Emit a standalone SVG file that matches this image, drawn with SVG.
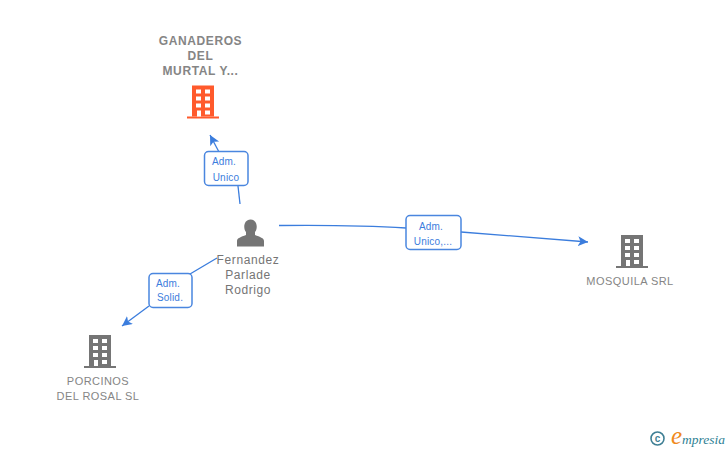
<svg xmlns="http://www.w3.org/2000/svg" width="728" height="450" viewBox="0 0 728 450">
<style>
text{font-family:"Liberation Sans",Arial,sans-serif;text-anchor:middle}
.n{font-size:11px;fill:#858585;letter-spacing:.45px}
.b{font-size:12px;font-weight:700;letter-spacing:.6px}
.p{font-size:12px;fill:#757575;letter-spacing:.6px}
.l{font-size:10px;fill:#3b7ddd;letter-spacing:.2px}
.c{fill:none;stroke:#3b7ddd;stroke-width:1.300}
.box{fill:#fff;stroke:#4a86df;stroke-width:1.500}
.win{fill:#fff}
</style>
<defs>
<marker id="a" markerUnits="userSpaceOnUse" markerWidth="12" markerHeight="12" refX="10" refY="5" orient="auto"><path d="M0 0L10 5L0 10L2.500 5Z" fill="#3b7ddd"/></marker>
<g id="bld">
<rect x="2" y="0" width="22" height="31"/>
<rect x="-3" y="31" width="32" height="2"/>
<g class="win">
<rect x="6" y="4" width="5" height="4"/><rect x="15" y="4" width="5" height="4"/>
<rect x="6" y="11" width="5" height="4"/><rect x="15" y="11" width="5" height="4"/>
<rect x="6" y="18" width="5" height="4"/><rect x="15" y="18" width="5" height="4"/>
<rect x="7" y="25" width="4" height="6"/><rect x="15" y="25" width="5" height="4"/>
</g>
</g>
</defs>
<g id="connectors">
<path class="c" d="M240 204L238 186"/>
<path class="c" marker-end="url(#a)" d="M219 152L210 135"/>
<path class="c" d="M217 258L190 274"/>
<path class="c" marker-end="url(#a)" d="M149 306L122 326"/>
<path class="c" d="M279 225.500C330 225 375 226 406 228"/>
<path class="c" marker-end="url(#a)" d="M461 232L588 242"/>
</g>
<g id="edge-label-1"><rect class="box" x="204.500" y="151.500" width="43.500" height="34" rx="4"/><text class="l" x="224" y="165">Adm.</text><text class="l" x="226" y="180.500">Unico</text></g>
<g id="edge-label-2"><rect class="box" x="149" y="273.500" width="43" height="34" rx="4"/><text class="l" x="168" y="286.500">Adm.</text><text class="l" x="170" y="301">Solid.</text></g>
<g id="edge-label-3"><rect class="box" x="406" y="215.500" width="55" height="34" rx="4"/><text class="l" x="431" y="229.500">Adm.</text><text class="l" x="433" y="244.500">Unico,...</text></g>
<g id="node-ganaderos">
<text class="n b" x="200.500" y="45">GANADEROS</text><text class="n b" x="200.500" y="60">DEL</text><text class="n b" x="200.500" y="75">MURTAL Y...</text>
<use href="#bld" x="190" y="85.500" fill="#ff5a2c"/>
</g>
<g id="node-person">
<path d="M237 246.500V241C237 238 241 237 246 235V232C243 229 243.500 219.500 250.500 219.500C257.500 219.500 258 229 255 232V235C260 237 264 238 264 241V246.500Z" fill="#757575"/>
<text class="p" x="248" y="264">Fernandez</text><text class="p" x="248" y="279">Parlade</text><text class="p" x="248" y="294">Rodrigo</text>
</g>
<g id="node-mosquila">
<use href="#bld" x="619" y="235" fill="#757575"/>
<text class="n" x="630" y="285">MOSQUILA SRL</text>
</g>
<g id="node-porcinos">
<use href="#bld" x="87" y="335" fill="#757575"/>
<text class="n" x="98" y="385">PORCINOS</text><text class="n" x="98" y="400">DEL ROSAL SL</text>
</g>
<g id="logo">
<circle cx="657.500" cy="438.500" r="6.500" fill="none" stroke="#3f7f94" stroke-width="1.600"/>
<text x="657.500" y="442" style="font-size:10px;font-weight:700;fill:#3f7f94">c</text>
<text x="671" y="444" style="font-family:'Liberation Serif',serif;font-style:italic;text-anchor:start;fill:#2f7f94;font-size:13.500px"><tspan style="font-size:25px;fill:#f08a1d">e</tspan><tspan>mpresia</tspan></text>
</g>
</svg>
